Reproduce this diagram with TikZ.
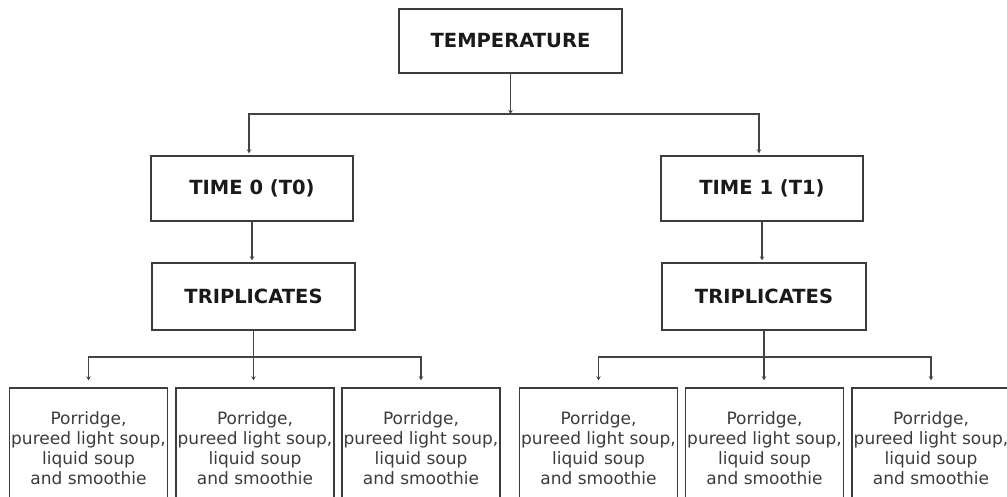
\documentclass[tikz,border=0pt]{standalone}
\usepackage{fontspec}
\setmainfont{DejaVu Sans}
\usetikzlibrary{arrows.meta}
\definecolor{linec}{HTML}{444444}
\definecolor{boxc}{HTML}{3C3C3C}
\definecolor{txtc}{HTML}{1A1A1A}
\begin{document}
\begin{tikzpicture}[x=1pt,y=-1pt,
  hbox/.style={draw=boxc,line width=1.4pt,inner sep=0pt,text=txtc,
    font=\fontsize{19.5}{22}\selectfont\bfseries,align=center},
  fbox/.style={draw=boxc,line width=1.4pt,inner sep=0pt,text=txtc!85!white,
    minimum width=158pt,minimum height=120pt,
    font=\fontsize{17}{20}\selectfont,align=center},
  conn/.style={draw=linec,line width=1.3pt,-{Stealth[length=4pt,width=4.5pt]},shorten >=2pt},
  connb/.style={conn,shorten >=7pt}]
\clip (0,0) rectangle (1007,496);
\fill[white] (0,0) rectangle (1007,496);
\node[hbox,minimum width=223pt,minimum height=64pt] (temp) at (510.5,41) {TEMPERATURE};
\node[hbox,minimum width=202pt,minimum height=65pt] (t0) at (252,188.5) {TIME 0 (T0)};
\node[hbox,minimum width=202pt,minimum height=65pt] (t1) at (762,188.5) {TIME 1 (T1)};
\node[hbox,minimum width=203pt,minimum height=67pt] (tr0) at (253.5,296.5) {TRIPLICATES};
\node[hbox,minimum width=204pt,minimum height=67pt] (tr1) at (764,296.5) {TRIPLICATES};
\node[fbox] (b1) at (88.5,448) {Porridge,\\pureed light soup,\\liquid soup\\and smoothie};
\node[fbox] (b2) at (255,448) {Porridge,\\pureed light soup,\\liquid soup\\and smoothie};
\node[fbox] (b3) at (421,448) {Porridge,\\pureed light soup,\\liquid soup\\and smoothie};
\node[fbox] (b4) at (598.5,448) {Porridge,\\pureed light soup,\\liquid soup\\and smoothie};
\node[fbox] (b5) at (764.5,448) {Porridge,\\pureed light soup,\\liquid soup\\and smoothie};
\node[fbox] (b6) at (931,448) {Porridge,\\pureed light soup,\\liquid soup\\and smoothie};
\coordinate (j) at (510.5,114);
\coordinate (j0) at (253.5,357);
\coordinate (j1) at (764,357);
\draw[conn,shorten >=0pt] (temp.south) -- (j);
\draw[conn] (j) -| ([xshift=-3pt]t0.north);
\draw[conn] (j) -| ([xshift=-3pt]t1.north);
\draw[conn] (t0.south) -- (t0.south |- tr0.north);
\draw[conn] (t1.south) -- (t1.south |- tr1.north);
\draw[draw=linec,line width=1.3pt] (tr0.south) -- (j0);
\draw[draw=linec,line width=1.3pt] (tr1.south) -- (j1);
\draw[connb] (j0) -| (b1.north);
\draw[connb] (j0) -| (b3.north);
\draw[connb] (j0) -- (j0 |- b2.north);
\draw[connb] (j1) -| (b4.north);
\draw[connb] (j1) -| (b6.north);
\draw[connb] (j1) -- (j1 |- b5.north);
\end{tikzpicture}
\end{document}
